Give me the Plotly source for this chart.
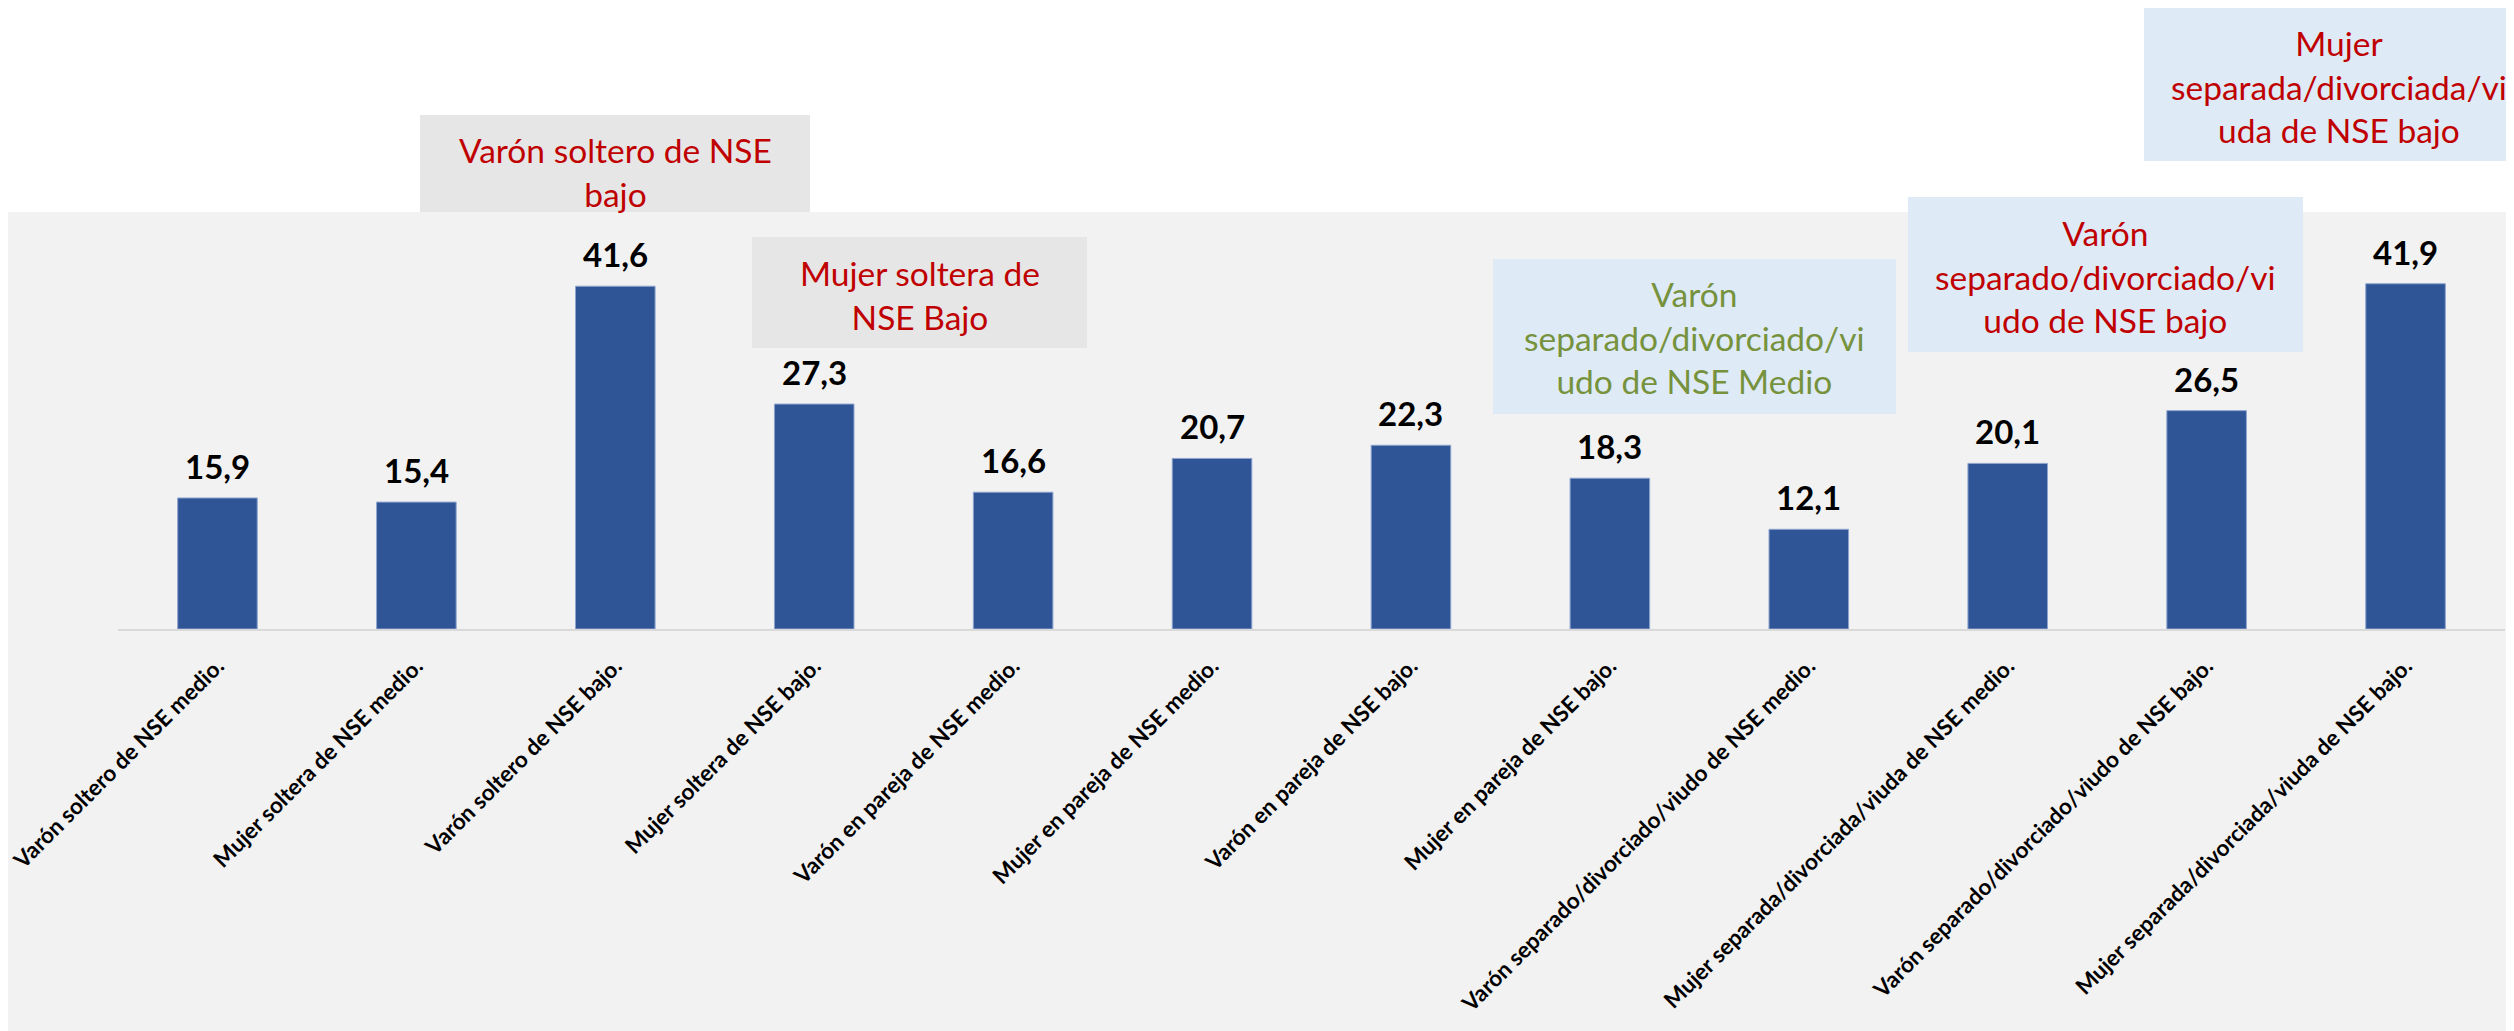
import plotly.graph_objects as go

# categories and values
categorias = [
    "Varón soltero de NSE medio.",
    "Mujer soltera de NSE medio.",
    "Varón soltero de NSE bajo.",
    "Mujer soltera de NSE bajo.",
    "Varón en pareja de NSE medio.",
    "Mujer en pareja de NSE medio.",
    "Varón en pareja de NSE bajo.",
    "Mujer en pareja de NSE bajo.",
    "Varón separado/divorciado/viudo de NSE medio.",
    "Mujer separada/divorciada/viuda de NSE medio.",
    "Varón separado/divorciado/viudo de NSE bajo.",
    "Mujer separada/divorciada/viuda de NSE bajo.",
]
valores = [15.9, 15.4, 41.6, 27.3, 16.6, 20.7, 22.3, 18.3, 12.1, 20.1, 26.5, 41.9]

# callout texts
callout_textos = [
    "Varón soltero de NSE<br>bajo",
    "Mujer soltera de<br>NSE Bajo",
    "Varón<br>separado/divorciado/vi<br>udo de NSE Medio",
    "Varón<br>separado/divorciado/vi<br>udo de NSE bajo",
    "Mujer<br>separada/divorciada/vi<br>uda de NSE bajo",
]

W, H = 2514, 1031
OFF = 8  # page body margin
FONT = "Lato"
ROJO = "#C00000"
VERDE = "#76923C"
GRIS_CAJA = "#E6E6E6"
AZUL_CAJA = "#DEEAF6"


def px_x(x):
    return (x - OFF) / W


def px_y(y):
    return 1 - (y - OFF) / H


fig = go.Figure()

fig.add_trace(
    go.Bar(
        x=categorias,
        y=valores,
        marker=dict(color="#2F5597", line=dict(color="#8EA4CF", width=1)),
        showlegend=False,
    )
)

# value labels above the bars
annotations = [
    dict(x=c, y=v, xref="x", yref="y", text=f"<b>{v:.1f}</b>".replace(".", ","),
         showarrow=False, yanchor="middle", yshift=32,
         font=dict(family=FONT, size=33, color="black"))
    for c, v in zip(categorias, valores)
]

# grey background panel
shapes = [
    dict(type="rect", xref="paper", yref="paper", layer="below",
         x0=0, x1=1, y0=0, y1=px_y(212),
         fillcolor="#F2F2F2", line=dict(width=0)),
]

# callout boxes: (x0, x1, y0, y1, fill, text colour, text centre x, text centre y)
cajas = [
    (420, 810, 115, 212, GRIS_CAJA, ROJO, 615, 172),
    (752, 1087, 237, 348, GRIS_CAJA, ROJO, 920, 295),
    (1493, 1896, 259, 414, AZUL_CAJA, VERDE, 1694, 337),
    (1908, 2303, 197, 352, AZUL_CAJA, ROJO, 2105, 276),
    (2144, 2534, 6, 161, AZUL_CAJA, ROJO, 2339, 86),
]

for (x0, x1, y0, y1, fill, col, cx, cy), txt in zip(cajas, callout_textos):
    shapes.append(dict(type="rect", xref="paper", yref="paper", layer="below",
                       x0=px_x(x0), x1=px_x(x1), y0=px_y(y1), y1=px_y(y0),
                       fillcolor=fill, line=dict(width=0)))
    annotations.append(dict(
        xref="paper", yref="paper", x=px_x(cx), y=px_y(cy),
        xanchor="center", yanchor="middle", showarrow=False,
        text=txt, align="center",
        font=dict(family=FONT, size=33.5, color=col),
    ))

fig.update_layout(
    width=W,
    height=H,
    margin=dict(l=0, r=0, t=0, b=0),
    paper_bgcolor="white",
    plot_bgcolor="rgba(0,0,0,0)",
    bargap=0.6,
    shapes=shapes,
    annotations=annotations,
    xaxis=dict(
        domain=[px_x(118), px_x(2505)],
        automargin=False,
        showline=True,
        linecolor="#D9D9D9",
        linewidth=2,
        ticks="outside",
        ticklen=13,
        tickcolor="rgba(0,0,0,0)",
        tickangle=-45,
        tickfont=dict(family=FONT, size=22.5, color="black", weight="bold"),
        showgrid=False,
    ),
    yaxis=dict(
        domain=[px_y(629), 1],
        range=[0, (629 - OFF) / 8.24],
        automargin=False,
        visible=False,
        showgrid=False,
        zeroline=False,
    ),
)

fig.write_html("out.html")
